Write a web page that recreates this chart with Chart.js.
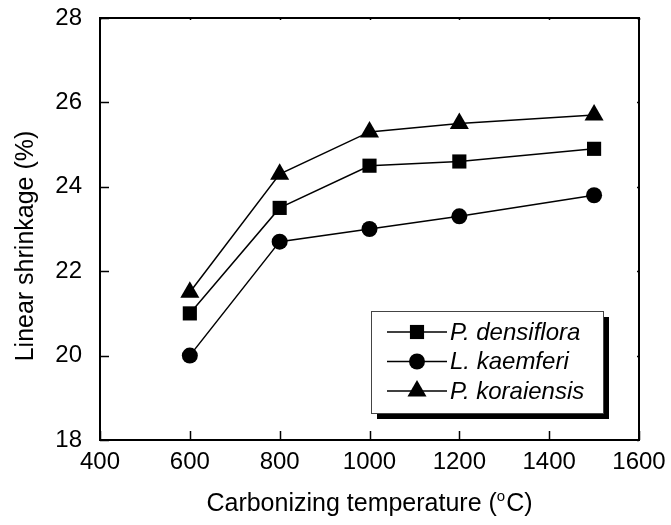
<!DOCTYPE html>
<html>
<head>
<meta charset="utf-8">
<script src="https://cdn.jsdelivr.net/npm/chart.js@4/dist/chart.umd.min.js"></script>
<style>
  html, body { margin: 0; padding: 0; background: #fff; }
  #wrap { width: 671px; height: 525px; }
</style>
</head>
<body>
<div id="wrap"><canvas id="shrinkage-chart" width="671" height="525"></canvas></div>
<script>
// values
const temperatures = [600, 800, 1000, 1200, 1500];
const densiflora = [21.0, 23.5, 24.5, 24.6, 24.9];
const kaemferi = [20.0, 22.7, 23.0, 23.3, 23.8];
const koraiensis = [21.5, 24.3, 25.3, 25.5, 25.7];
const seriesNames = ['P. densiflora', 'L. kaemferi', 'P. koraiensis'];
const xTicks = [400, 600, 800, 1000, 1200, 1400, 1600];
const yTicks = [18, 20, 22, 24, 26, 28];

const FONT = '"Liberation Sans", Arial, sans-serif';

const toPoints = vals => temperatures.map((t, i) => ({ x: t, y: vals[i] }));

// frame, inward ticks, axis titles and the boxed legend
const decorations = {
    id: 'decorations',
    afterDraw(chart) {
        const ctx = chart.ctx;
        const area = chart.chartArea;
        const xs = chart.scales.x;
        const ys = chart.scales.y;
        ctx.save();
        ctx.strokeStyle = '#000';
        ctx.lineWidth = 2;
        ctx.strokeRect(area.left, area.top, area.right - area.left, area.bottom - area.top);

        ctx.lineWidth = 1.5;
        ctx.beginPath();
        xTicks.forEach(v => {
            const px = Math.round(xs.getPixelForValue(v)) + 0.5;
            ctx.moveTo(px, area.bottom); ctx.lineTo(px, area.bottom - 9);
            ctx.moveTo(px, area.top); ctx.lineTo(px, area.top + 2);
        });
        yTicks.forEach(v => {
            const py = Math.round(ys.getPixelForValue(v)) + 0.5;
            ctx.moveTo(area.left, py); ctx.lineTo(area.left + 9, py);
            ctx.moveTo(area.right, py); ctx.lineTo(area.right - 2, py);
        });
        ctx.stroke();

        // x title with superscript o
        ctx.fillStyle = '#000';
        ctx.textBaseline = 'alphabetic';
        ctx.textAlign = 'left';
        const big = '25px ' + FONT;
        const small = '15px ' + FONT;
        const partA = 'Carbonizing temperature (';
        const partB = 'o';
        const partC = 'C)';
        ctx.font = big;
        const wA = ctx.measureText(partA).width;
        const wC = ctx.measureText(partC).width;
        ctx.font = small;
        const wB = ctx.measureText(partB).width;
        let tx = (area.left + area.right) / 2 - (wA + wB + wC + 1) / 2;
        const ty = 511;
        ctx.font = big;
        ctx.fillText(partA, tx, ty);
        tx += wA;
        ctx.font = small;
        ctx.fillText(partB, tx, ty - 10);
        tx += wB + 1;
        ctx.font = big;
        ctx.fillText(partC, tx, ty);

        // y title
        ctx.save();
        ctx.translate(33, 246);
        ctx.rotate(-Math.PI / 2);
        ctx.textAlign = 'center';
        ctx.font = big;
        ctx.fillText('Linear shrinkage (%)', 0, 0);
        ctx.restore();

        // legend box with shadow
        const bx = 371, by = 311, bw = 232, bh = 102;
        ctx.fillStyle = '#000';
        ctx.fillRect(bx + 6, by + 6, bw, bh);
        ctx.fillStyle = '#fff';
        ctx.fillRect(bx, by, bw, bh);
        ctx.strokeStyle = '#444';
        ctx.lineWidth = 1;
        ctx.strokeRect(bx + 0.5, by + 0.5, bw, bh);

        chart.data.datasets.forEach((ds, i) => {
            const rowY = 332 + i * 29.5;
            ctx.strokeStyle = '#000';
            ctx.lineWidth = 1.5;
            ctx.beginPath();
            ctx.moveTo(387, rowY); ctx.lineTo(447, rowY);
            ctx.stroke();
            ctx.fillStyle = '#000';
            Chart.helpers.drawPoint(ctx, {
                pointStyle: ds.pointStyle, radius: ds.pointRadius, rotation: 0, borderWidth: 0
            }, 417, rowY);
            ctx.fillStyle = '#000';
            ctx.font = 'italic 24px ' + FONT;
            ctx.textAlign = 'left';
            ctx.textBaseline = 'middle';
            ctx.fillText(ds.label, 450, rowY + 1);
        });
        ctx.restore();
    }
};

const styles = [
    { pointStyle: 'rect', pointRadius: 10 },
    { pointStyle: 'circle', pointRadius: 8 },
    { pointStyle: 'triangle', pointRadius: 11 }
];

new Chart(document.getElementById('shrinkage-chart'), {
    type: 'line',
    data: {
        datasets: [densiflora, kaemferi, koraiensis].map((vals, i) => ({
            label: seriesNames[i],
            data: toPoints(vals),
            borderColor: '#000',
            backgroundColor: '#000',
            borderWidth: 1.5,
            pointStyle: styles[i].pointStyle,
            pointRadius: styles[i].pointRadius,
            pointBorderWidth: 0,
            pointBackgroundColor: '#000',
            tension: 0,
            clip: false
        }))
    },
    options: {
        responsive: false,
        animation: false,
        layout: { padding: { left: 0, right: 32, top: 18, bottom: 0 } },
        plugins: {
            legend: { display: false },
            tooltip: { enabled: false }
        },
        scales: {
            x: {
                type: 'linear',
                min: 400,
                max: 1600,
                afterBuildTicks: s => { s.ticks = xTicks.map(v => ({ value: v })); },
                afterFit: s => {
                    s.height = 85;
                    s.paddingLeft = 0; s.paddingRight = 0;
                },
                grid: { display: false },
                border: { display: false },
                ticks: {
                    color: '#000',
                    padding: 0,
                    maxRotation: 0,
                    callback: v => String(v),
                    font: { family: FONT, size: 24 }
                }
            },
            y: {
                min: 18,
                max: 28,
                afterBuildTicks: s => { s.ticks = yTicks.map(v => ({ value: v })); },
                afterFit: s => {
                    s.width = 100;
                    s.paddingTop = 0; s.paddingBottom = 0;
                },
                grid: { display: false },
                border: { display: false },
                ticks: {
                    color: '#000',
                    padding: 10,
                    callback: v => String(v),
                    font: { family: FONT, size: 24 }
                }
            }
        }
    },
    plugins: [decorations]
});
</script>
</body>
</html>
